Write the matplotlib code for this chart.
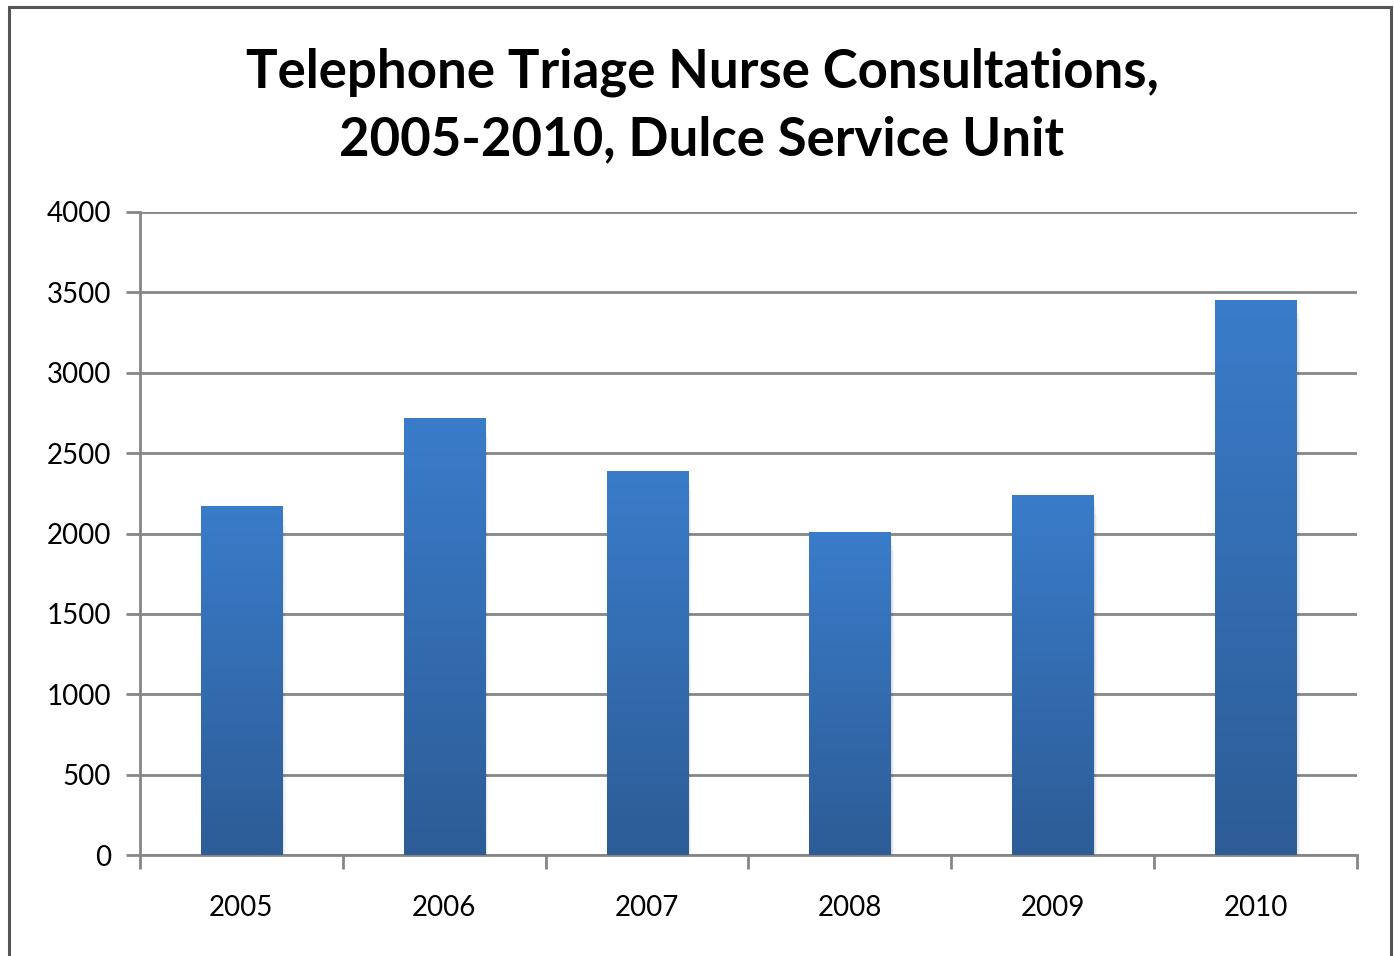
import matplotlib
matplotlib.use("Agg")
import matplotlib.pyplot as plt
import numpy as np
from matplotlib.patches import Rectangle
from matplotlib.colors import LinearSegmentedColormap

years = ["2005", "2006", "2007", "2008", "2009", "2010"]
consultations = [2172, 2718, 2390, 2010, 2242, 3453]
y_ticks = [0, 500, 1000, 1500, 2000, 2500, 3000, 3500, 4000]
title = "Telephone Triage Nurse Consultations,\n2005-2010, Dulce Service Unit"

plt.rcParams['font.family'] = ['Lato', 'DejaVu Sans']

W, H = 1394, 956
fig = plt.figure(figsize=(W / 100, H / 100), dpi=100)
fig.patch.set_facecolor("white")

# outer frame
frame = Rectangle((9 / W, -0.05), (1391 - 9) / W, (H - 7) / H + 0.05, transform=fig.transFigure,
                  fill=False, edgecolor="#555555", linewidth=2.2, zorder=10)
fig.patches.append(frame)

ax = fig.add_axes([140 / W, 1 - 855 / H, (1357 - 140) / W, (855 - 212) / H])
ax.set_xlim(-0.5, len(years) - 0.5)
ax.set_ylim(0, 4000)

grid_c = "#868686"
ax.set_yticks(y_ticks)
ax.set_yticklabels([str(t) for t in y_ticks], fontsize=20)
ax.yaxis.grid(True, color=grid_c, linewidth=2)
ax.set_axisbelow(True)
ax.set_xticks(range(len(years)))
ax.set_xticklabels(years, fontsize=20)
ax.set_xticks(np.arange(-0.5, len(years), 1), minor=True)
ax.tick_params(axis='x', which='major', length=0, pad=29)
ax.tick_params(axis='x', which='minor', length=10, width=2, color=grid_c, direction='out')
ax.tick_params(axis='y', length=10, width=2, color=grid_c, direction='out', pad=11)

for s in ["top", "right"]:
    ax.spines[s].set_visible(False)
for s in ["left", "bottom"]:
    ax.spines[s].set_color(grid_c)
    ax.spines[s].set_linewidth(2)

cmap = LinearSegmentedColormap.from_list("bar", ["#2D5C96", "#3A7CCA"])
grad = np.linspace(0, 1, 256).reshape(-1, 1)
width = 0.4
for i, v in enumerate(consultations):
    # soft shadow
    for k, a in enumerate([0.06, 0.05, 0.04]):
        off = 0.006 * (k + 1)
        sh = Rectangle((i - width / 2 + off, -40 * (k + 1)), width, v, facecolor="black",
                       alpha=a, edgecolor="none", zorder=2)
        ax.add_patch(sh)
    rect = Rectangle((i - width / 2, 0), width, v, facecolor="none", edgecolor="none", zorder=3)
    ax.add_patch(rect)
    im = ax.imshow(grad, cmap=cmap, origin="lower", aspect="auto",
                   extent=(i - width / 2, i + width / 2, 0, v), zorder=3)
    im.set_clip_path(rect)

ax.set_xlim(-0.5, len(years) - 0.5)
ax.set_ylim(0, 4000)

fig.text(702 / W, 1 - 106 / H, title, ha="center", va="center", fontsize=38,
         fontweight="bold", linespacing=1.45)

fig.savefig("out.png", dpi=100, facecolor="white")
